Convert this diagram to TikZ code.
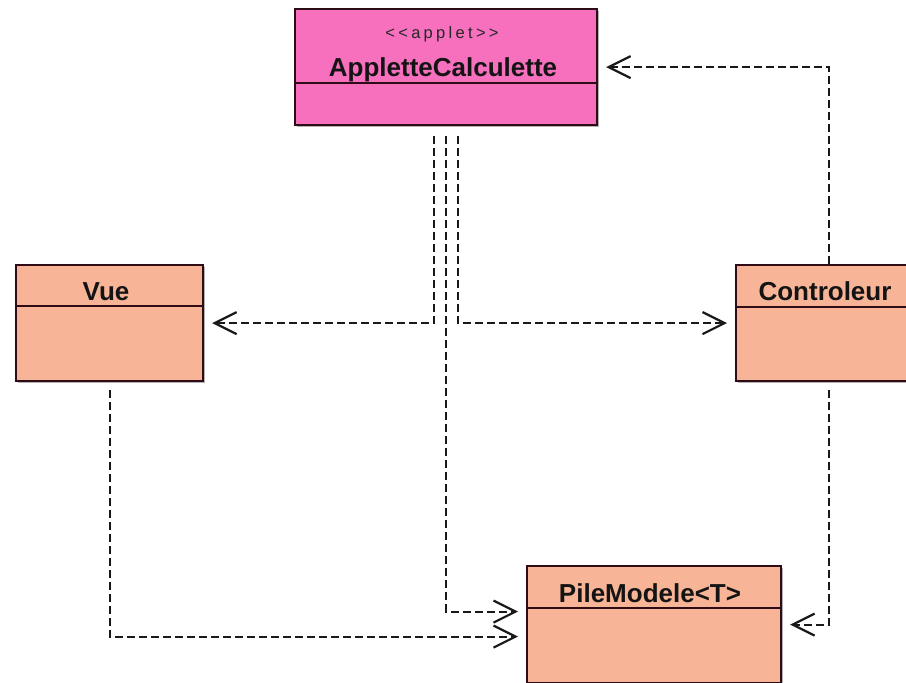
\documentclass[tikz,border=0pt]{standalone}
\usepackage{fontspec}
\setmainfont{Liberation Sans}
\usetikzlibrary{arrows.meta,calc}
\definecolor{appfill}{RGB}{246,112,190}
\definecolor{clsfill}{RGB}{247,180,150}
\definecolor{edgecol}{RGB}{45,12,22}
\begin{document}
\begin{tikzpicture}[x=1pt,y=-1pt,
  box/.style={draw=edgecol, line width=2.2pt, inner sep=0pt, anchor=north west},
  boxshadow/.style={fill=black!30, draw=none},
  divider/.style={draw=edgecol, line width=1.6pt},
  title/.style={font=\bfseries\fontsize{26}{26}\selectfont, text=black!92, anchor=base, inner sep=0pt},
  stereo/.style={font=\fontsize{16.5}{16.5}\selectfont\addfontfeature{LetterSpace=20}, text=black!85, inner sep=0pt},
  dep/.style={draw=black!90, line width=2.2pt, dash pattern=on 8pt off 4pt,
    -{Straight Barb[length=22pt,width=22pt,line width=2.2pt]}, shorten >=8pt},
]
\useasboundingbox (0,0) rectangle (906,683);
\clip (0,0) rectangle (906,683);
\fill[white] (0,0) rectangle (906,683);

% AppletteCalculette
\fill[boxshadow] (297,11) rectangle (599,127);
\node[box, fill=appfill, minimum width=302pt, minimum height=116pt] (app) at (294,8) {};
\draw[divider] (app.west |- 0,83) -- (app.east |- 0,83);
\node[stereo] (appstereo) at (442,34) {{<}{<}applet{>}{>}};
\node[title] (appname) at (443,76) {AppletteCalculette};

% Vue
\fill[boxshadow] (18,267) rectangle (205,383);
\node[box, fill=clsfill, minimum width=187pt, minimum height=116pt] (vue) at (15,264) {};
\draw[divider] (vue.west |- 0,306) -- (vue.east |- 0,306);
\node[title] (vuename) at (106,300) {Vue};

% Controleur
\fill[boxshadow] (738,267) rectangle (924,383);
\node[box, fill=clsfill, minimum width=186pt, minimum height=116pt] (ctl) at (735,264) {};
\draw[divider] (ctl.west |- 0,307) -- (ctl.east |- 0,307);
\node[title] (ctlname) at (825,300) {Controleur};

% PileModele<T>
\fill[boxshadow] (529,568) rectangle (783,685);
\node[box, fill=clsfill, minimum width=254pt, minimum height=117pt] (pile) at (526,565) {};
\draw[divider] (pile.west |- 0,608) -- (pile.east |- 0,608);
\node[title] (pilename) at (650,602) {PileModele<T>};

% dependencies
\draw[dep] ($(app.south)+(-12,10)$) |- (vue.east);
\draw[dep] ($(app.south)+(0,10)$) |- ($(pile.west)+(0,-13)$);
\draw[dep] ($(app.south)+(12,10)$) |- (ctl.west);
\draw[dep] (ctl.north) |- (app.east);
\draw[dep] ($(vue.south)+(0,8)$) |- ($(pile.west)+(0,12)$);
\draw[dep] ($(ctl.south)+(0,8)$) |- (pile.east);
\end{tikzpicture}
\end{document}
